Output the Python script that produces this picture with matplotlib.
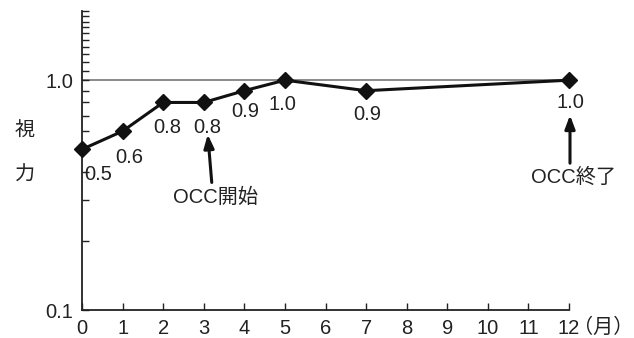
import matplotlib
matplotlib.use("Agg")
import matplotlib.pyplot as plt
from matplotlib.ticker import FixedLocator, NullFormatter
from matplotlib.transforms import offset_copy

plt.rcParams['font.family'] = ['Liberation Sans', 'Noto Sans CJK JP', 'DejaVu Sans']

months = [0, 1, 2, 3, 4, 5, 7, 12]
acuity = [0.5, 0.6, 0.8, 0.8, 0.9, 1.0, 0.9, 1.0]
labels = ["0.5", "0.6", "0.8", "0.8", "0.9", "1.0", "0.9", "1.0"]
label_offsets = [(16, -25), (7, -26), (4, -25), (3, -25), (1, -21), (-2, -24), (1, -24), (1, -22)]
xticks = list(range(0, 13))
yticks = [0.1, 1.0]
ytick_labels = ["0.1", "1.0"]
minor_y = [0.2, 0.3, 0.4, 0.5, 0.6, 0.7, 0.8, 0.9, 1.1, 1.2, 1.3, 1.4, 1.5, 1.6, 1.7, 1.8, 1.9, 2.0]
start_idx = 3   # OCC開始
end_idx = 7     # OCC終了

fig = plt.figure(figsize=(6.34, 3.38), dpi=100)
ax = fig.add_axes([82/634, 28/338, (569-82)/634, (310-11)/338])
ax.set_yscale('log')
ax.set_xlim(0, 12)
ax.set_ylim(0.1, 2.0)

ax.axhline(1.0, color='#777777', lw=1.2, zorder=1)
ax.plot(months, acuity, color='#111111', lw=2.2, marker='D', ms=8.6, zorder=3, clip_on=False)

fs = 14.5
tc = '#222222'
for x, y, t, (dx, dy) in zip(months, acuity, labels, label_offsets):
    ax.annotate(t, (x, y), xytext=(dx, dy), textcoords='offset pixels', ha='center', va='center',
                fontsize=fs, color=tc)

aprops = dict(arrowstyle='-|>,head_length=0.8,head_width=0.3', color='#111111', lw=2.2,
              shrinkA=0, shrinkB=0)

# OCC開始
p = (months[start_idx], acuity[start_idx])
t_tip = offset_copy(ax.transData, fig=fig, x=4, y=-32, units='dots')
t_tail = offset_copy(ax.transData, fig=fig, x=8, y=-80, units='dots')
ax.annotate('', xy=p, xycoords=t_tip, xytext=p, textcoords=t_tail, arrowprops=aprops)
ax.annotate('OCC開始', p, xytext=(12, -95), textcoords='offset pixels', ha='center', va='center',
            fontsize=fs, color=tc)

# OCC終了
q = (months[end_idx], acuity[end_idx])
t_tip2 = offset_copy(ax.transData, fig=fig, x=1, y=-35, units='dots')
t_tail2 = offset_copy(ax.transData, fig=fig, x=1, y=-83, units='dots')
ax.annotate('', xy=q, xycoords=t_tip2, xytext=q, textcoords=t_tail2, arrowprops=aprops,
            annotation_clip=False)
ax.annotate('OCC終了', q, xytext=(4, -97), textcoords='offset pixels', ha='center', va='center',
            fontsize=fs, color=tc, annotation_clip=False)

ax.spines['top'].set_visible(False)
ax.spines['right'].set_visible(False)
for s in ('left', 'bottom'):
    ax.spines[s].set_linewidth(1.3)
    ax.spines[s].set_color('#222222')

ax.set_xticks(xticks)
ax.set_xticklabels([str(v) for v in xticks], fontsize=fs, color=tc)
ax.yaxis.set_major_locator(FixedLocator(yticks))
ax.set_yticklabels(ytick_labels, fontsize=fs, color=tc)
ax.yaxis.set_minor_locator(FixedLocator(minor_y))
ax.yaxis.set_minor_formatter(NullFormatter())
ax.tick_params(axis='both', which='both', direction='in', length=5, width=1, color='#222222')
ax.tick_params(axis='x', pad=6.5)
ax.tick_params(axis='y', pad=6.5)

fig.text(603/634, 1 - 327/338, '（月）', ha='center', va='center', fontsize=fs, color=tc)
fig.text(25/634, 1 - 131/338, '視', ha='center', va='center', fontsize=fs, color=tc)
fig.text(25/634, 1 - 175/338, '力', ha='center', va='center', fontsize=fs, color=tc)

fig.savefig('out.png', dpi=100)
